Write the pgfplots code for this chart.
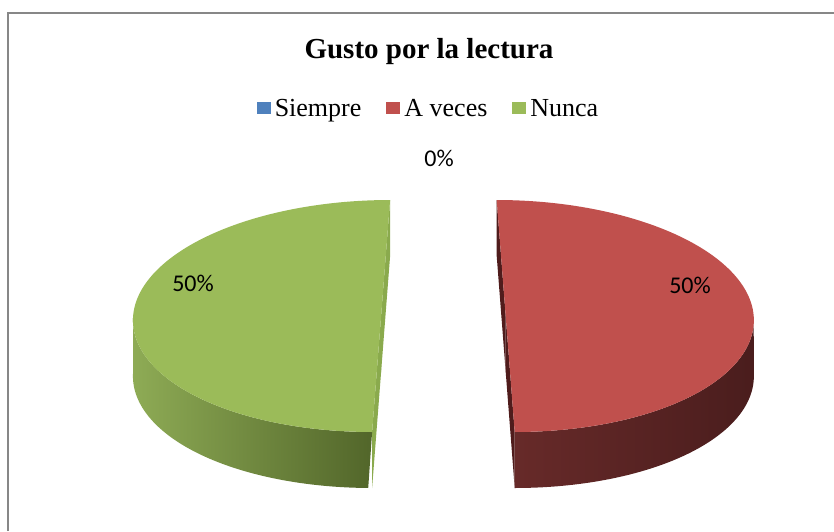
\documentclass[border=0pt]{standalone}
\usepackage{fontspec}
\setmainfont{Liberation Serif}
\newfontfamily\timesf{Liberation Serif}
\newfontfamily\calibri{Carlito}
\usepackage{pgfplots}
\usepackage{pgfplotstable}
\pgfplotsset{compat=1.18}

\definecolor{cBlue}{HTML}{4F81BD}
\definecolor{cRed}{HTML}{C0504D}
\definecolor{cGreen}{HTML}{9BBB59}
\definecolor{redSideL}{HTML}{672A29}
\definecolor{redSideR}{HTML}{4A1D1D}
\definecolor{redFace}{HTML}{4F1C1C}
\definecolor{greenSideL}{HTML}{8EAB55}
\definecolor{greenSideR}{HTML}{52662A}
\definecolor{greenFace}{HTML}{8AAA4D}
\definecolor{frameGray}{HTML}{878787}

% percentages per category
\pgfplotstableread{
cat value
Siempre 0
Aveces 50
Nunca 50
}\piedata

% pie geometry (1 unit = 1 px of the reference)
\def\pcx{443.4}  \def\pcy{215}
\def\pa{248}     \def\pb{116}
\def\pdepth{56}  \def\pexp{62.3} \def\pshear{9}

% #1 start angle, #2 end angle (clockwise), #3 top, #4/#5 side shading, #6 cut face
\newcommand\pieslice[6]{%
  \pgfmathsetmacro\pmid{(#1+#2)/2}%
  \pgfmathsetmacro\pcxs{\pcx+\pexp*cos(\pmid)}%
  \pgfmathsetmacro\pcys{\pcy+\pexp*sin(\pmid)*\pb/\pa}%
  \pgfmathsetmacro\pk{-\pshear*cos(\pmid)}%
  \pgfmathsetmacro\pfa{max(#2,-180)}%
  \pgfmathsetmacro\pfb{min(#1,0)}%
  \pgfmathsetmacro\psx{\pcxs+\pa*cos(#1)+\pk*sin(#1)}%
  \pgfmathsetmacro\psy{\pcys+\pb*sin(#1)}%
  \pgfmathsetmacro\pex{\pcxs+\pa*cos(#2)+\pk*sin(#2)}%
  \pgfmathsetmacro\pey{\pcys+\pb*sin(#2)}%
  \pgfmathsetmacro\pcyd{\pcys-\pdepth}%
  \pgfmathsetmacro\psyd{\psy-\pdepth}%
  \pgfmathsetmacro\peyd{\pey-\pdepth}%
  % cut faces
  \addplot[fill=#6, draw=none] coordinates
    {(\pcxs,\pcys) (\psx,\psy) (\psx,\psyd) (\pcxs,\pcyd)};
  \addplot[fill=#6, draw=none] coordinates
    {(\pcxs,\pcys) (\pex,\pey) (\pex,\peyd) (\pcxs,\pcyd)};
  % outer side wall (front half only)
  \def\TT{(ifthenelse(\t<=1,\pfa+\t*(\pfb-\pfa),\pfb-(\t-1)*(\pfb-\pfa)))}%
  \addplot[draw=none, left color=#4, right color=#5,
    variable=\t, domain=0:2, samples=201]
    ({\pcxs+\pa*cos(\TT)+\pk*sin(\TT)},
     {\pcys+\pb*sin(\TT)-ifthenelse(\t<=1,0,\pdepth)});
  % top surface
  \addplot[fill=#3, draw=none, variable=\t, domain=#2:#1, samples=121]
    ({\pcxs+\pa*cos(\t)+\pk*sin(\t)}, {\pcys+\pb*sin(\t)});
}

\begin{document}
\begin{tikzpicture}
\pgfplotstablegetelem{0}{value}\of\piedata \let\vS\pgfplotsretval
\pgfplotstablegetelem{1}{value}\of\piedata \let\vA\pgfplotsretval
\pgfplotstablegetelem{2}{value}\of\piedata \let\vN\pgfplotsretval
\pgfmathsetmacro\vT{\vS+\vA+\vN}
\pgfmathsetmacro\aS{90-360*(\vS/\vT)}
\pgfmathsetmacro\aA{\aS-360*(\vA/\vT)}
\pgfmathsetmacro\aN{\aA-360*(\vN/\vT)}
\begin{axis}[
  width=834pt, height=531pt, scale only axis,
  xmin=0, xmax=834, ymin=0, ymax=531,
  hide axis, clip=false,
  legend style={at={(0.5138,0.7948)}, anchor=center, draw=none, fill=none,
    font=\timesf\fontsize{26}{30}\selectfont, legend columns=-1,
    nodes={inner xsep=2pt, inner ysep=0pt},
    /tikz/every odd column/.append style={column sep=2pt},
    /tikz/every even column/.append style={column sep=23pt}},
  legend image code/.code={\fill[#1] (0pt,-5.5pt) rectangle (14pt,6.5pt);},
]
\addlegendimage{fill=cBlue, draw=none}\addlegendentry{Siempre}
\addlegendimage{fill=cRed, draw=none}\addlegendentry{A veces}
\addlegendimage{fill=cGreen, draw=none}\addlegendentry{Nunca}

\pieslice{\aS}{\aA}{cRed}{redSideL}{redSideR}{redFace}
\pieslice{\aA}{\aN}{cGreen}{greenSideL}{greenSideR}{greenFace}

\node[font=\timesf\fontsize{29}{33}\selectfont\bfseries, anchor=base]
  at (axis cs:429,472) {Gusto por la lectura};
\node[font=\calibri\fontsize{24}{28}\selectfont] at (axis cs:439,373) {0\%};
\node[font=\calibri\fontsize{24}{28}\selectfont] at (axis cs:193,248) {50\%};
\node[font=\calibri\fontsize{24}{28}\selectfont] at (axis cs:690,246) {50\%};

\draw[line width=2pt, frameGray] (axis cs:8,0) -- (axis cs:8,518.3) -- (axis cs:834,518.3);
\end{axis}
\pgfresetboundingbox
\path (current axis.south west) rectangle (current axis.north east);
\end{tikzpicture}
\end{document}
